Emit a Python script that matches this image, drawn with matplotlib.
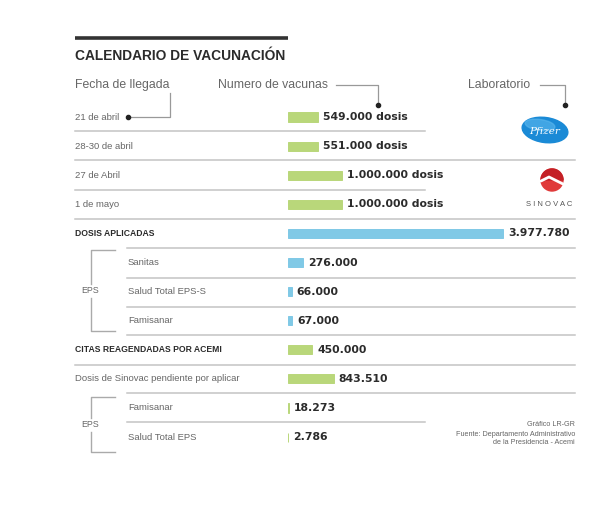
import matplotlib
matplotlib.use("Agg")
import matplotlib.pyplot as plt
from matplotlib.patches import Ellipse, Circle, Wedge
import numpy as np

# ---------------- data ----------------
row_labels = ["21 de abril", "28-30 de abril", "27 de Abril", "1 de mayo",
              "DOSIS APLICADAS", "Sanitas", "Salud Total EPS-S", "Famisanar",
              "CITAS REAGENDADAS POR ACEMI", "Dosis de Sinovac pendiente por aplicar",
              "Famisanar", "Salud Total EPS"]
values = [549000, 551000, 1000000, 1000000,
          3977780, 276000, 66000, 67000,
          450000, 843510, 18273, 2786]
value_labels = ["549.000 dosis", "551.000 dosis", "1.000.000 dosis", "1.000.000 dosis",
                "3.977.780", "276.000", "66.000", "67.000",
                "450.000", "843.510", "18.273", "2.786"]
bar_kind = ["g", "g", "g", "g", "b", "b", "b", "b", "g", "g", "g", "g"]
bold_rows = [4, 8]
indented_rows = [5, 6, 7, 10, 11]

GREEN = "#b9d77a"
BLUE = "#80c9e6"
colors = [GREEN if k == "g" else BLUE for k in bar_kind]

W, H = 615, 523
fig = plt.figure(figsize=(W / 100, H / 100), dpi=100)
fig.patch.set_facecolor("white")

# overlay axes in pixel coordinates for decorations
ax = fig.add_axes([0, 0, 1, 1])
ax.set_xlim(0, W)
ax.set_ylim(H, 0)
ax.axis("off")

SANS = ["Liberation Sans", "DejaVu Sans"]
GRAY = "#666666"
DARK = "#2b2b2b"
LINE = "#c4c4c4"

# row geometry
y0, dy = 117.0, 29.1
rows_y = [y0 + dy * i for i in range(len(values))]

# bar axes
px_per_unit = 54 / 1e6
bx_left, bx_width = 288, 300
bx = fig.add_axes([bx_left / W, 1 - (y0 + dy * 11.5) / H, bx_width / W, dy * 12 / H])
bx.set_xlim(0, bx_width / px_per_unit)
bx.set_ylim(len(values) - 0.5, -0.5)
bx.axis("off")
bx.patch.set_alpha(0)
idx = np.arange(len(values))
bx.barh(idx, values, height=0.31, color=colors, edgecolor=colors, linewidth=0.7, left=0)
for i, (v, lab) in enumerate(zip(values, value_labels)):
    bx.annotate(lab, xy=(v, i), xytext=(3.8, 0), textcoords="offset points",
                va="center", ha="left", fontsize=7.8, fontweight="bold",
                color=DARK, family="DejaVu Sans")

# title
ax.plot([75, 288], [38, 38], color="#333333", lw=2.6, solid_capstyle="butt")
ax.text(75, 56, "CALENDARIO DE VACUNACIÓN", fontsize=9.9, family=SANS,
        fontweight="bold", color=DARK, va="center", ha="left")

# headers
ax.text(75, 85, "Fecha de llegada", fontsize=8.8, family=SANS, color=GRAY, va="center")
ax.text(218, 85, "Numero de vacunas", fontsize=8.8, family=SANS, color=GRAY, va="center")
ax.text(468, 85, "Laboratorio", fontsize=8.8, family=SANS, color=GRAY, va="center")
ax.plot([170, 170, 128], [93, 117, 117], color="#999999", lw=0.9)
ax.plot([128], [117], "o", color="#222222", ms=3)
ax.plot([336, 378, 378], [85, 85, 105], color="#999999", lw=0.9)
ax.plot([378], [105], "o", color="#222222", ms=3)
ax.plot([540, 565, 565], [85, 85, 105], color="#999999", lw=0.9)
ax.plot([565], [105], "o", color="#222222", ms=3)

# row labels
for i, (lab, y) in enumerate(zip(row_labels, rows_y)):
    x = 128 if i in indented_rows else 75
    if i in bold_rows:
        ax.text(x, y, lab, fontsize=6.2, family=SANS, fontweight="bold",
                color=DARK, va="center")
    else:
        ax.text(x, y, lab, fontsize=6.8, family=SANS, color=GRAY, va="center")

# separators
seps = [(131, 75, 425), (160, 75, 575), (190, 75, 425), (219, 75, 575),
        (248, 127, 575), (278, 127, 575), (307, 127, 575), (335, 127, 575),
        (365, 75, 575), (393, 127, 575), (422, 127, 425)]
for y, xa, xb in seps:
    ax.plot([xa, xb], [y, y], color=LINE, lw=1.1)

# EPS brackets
for top, bot in [(250, 331), (397, 452)]:
    mid = (top + bot) / 2
    ax.plot([115, 91, 91], [top, top, mid - 7], color="#aaaaaa", lw=1)
    ax.plot([115, 91, 91], [bot, bot, mid + 7], color="#aaaaaa", lw=1)
    ax.text(90, mid, "EPS", fontsize=6.4, family=SANS, color=GRAY,
            ha="center", va="center")

# Pfizer logo
ax.add_patch(Ellipse((545, 130), 46, 25, angle=8, color="#1a8ad6", zorder=3))
ax.add_patch(Ellipse((540, 125), 30, 11, angle=8, color="#5cb8ee", zorder=3, alpha=0.6))
ax.text(545, 131, "Pfizer", fontsize=7.5, style="italic", color="white",
        ha="center", va="center", family="DejaVu Serif", zorder=4)

# Sinovac logo
ax.add_patch(Circle((552, 180), 11, color="#e03a3a", zorder=3))
ax.add_patch(Wedge((552, 180), 11, 180, 360, color="#c42026", zorder=3))
ax.plot([541, 549, 563], [181, 177, 184], color="white", lw=2, zorder=4,
        solid_capstyle="round")
ax.text(549, 205, "S I N O V A C", fontsize=5.5, color="#555555",
        ha="center", va="center", family=SANS)

# source
ax.text(575, 424, "Gráfico LR-GR", fontsize=5.2, color=GRAY, ha="right",
        va="center", family=SANS)
ax.text(575, 434, "Fuente: Departamento Administrativo", fontsize=5.2, color=GRAY,
        ha="right", va="center", family=SANS)
ax.text(575, 443, "de la Presidencia - Acemi", fontsize=5.2, color=GRAY,
        ha="right", va="center", family=SANS)

fig.savefig("out.png", dpi=100, facecolor="white")
